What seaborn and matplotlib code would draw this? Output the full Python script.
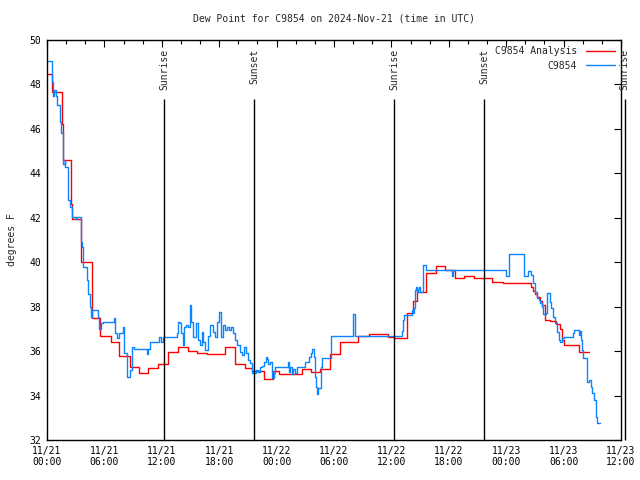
import numpy as np
import pandas as pd
import seaborn as sns
import matplotlib
matplotlib.use('Agg')
import matplotlib.pyplot as plt
from matplotlib.ticker import MultipleLocator

# hours since 2024-11-21 00:00 UTC, value starts at that hour (steps)
analysis_hours = [0.10, 0.55, 1.60, 1.67, 2.48, 2.61, 3.55, 4.73, 5.54, 6.66,
                  7.56, 8.68, 9.65, 10.59, 11.63, 12.62, 13.72, 14.69, 15.65, 16.72,
                  18.61, 19.60, 20.70, 21.40, 22.68, 23.66, 24.20, 26.62, 27.56, 28.54,
                  29.58, 30.63, 32.54, 33.66, 35.68, 36.30, 37.60, 38.29, 38.65, 39.59,
                  40.63, 41.60, 42.65, 43.59, 44.63, 46.48, 47.70, 50.56, 50.80, 51.05,
                  51.25, 51.50, 51.71, 52.06, 52.58, 53.21, 53.62, 53.83, 54.04, 55.64,
                  56.69]
analysis_vals = [48.45, 47.65, 46.2, 44.6, 42.6, 41.95, 40.0, 37.5, 36.7, 36.4,
                 35.8, 35.3, 35.0, 35.25, 35.4, 35.95, 36.2, 36.0, 35.9, 35.85,
                 36.2, 35.4, 35.25, 35.1, 34.75, 35.1, 34.95, 35.2, 35.05, 35.2,
                 35.85, 36.4, 36.7, 36.77, 36.65, 36.6, 37.7, 38.25, 38.67, 39.53,
                 39.83, 39.65, 39.27, 39.38, 39.27, 39.12, 39.05, 38.9, 38.7, 38.55,
                 38.45, 38.25, 38.07, 37.4, 37.35, 37.2, 37.0, 36.5, 36.27, 35.97,
                 35.97]

obs_hours = [0.14, 0.55, 0.63, 0.78, 0.89, 1.01, 1.39, 1.49, 1.67, 1.83,
             1.93, 2.23, 2.40, 2.58, 2.98, 3.08, 3.55, 3.69, 3.76, 4.21,
             4.32, 4.49, 4.60, 4.70, 5.33, 5.44, 5.64, 5.89, 7.00, 7.11,
             7.29, 7.53, 7.94, 8.05, 8.36, 8.68, 8.92, 9.09, 10.45, 10.56,
             10.77, 11.71, 11.92, 12.13, 13.56, 13.70, 13.90, 14.01, 14.22, 14.32,
             14.53, 14.74, 14.95, 15.08, 15.26, 15.58, 15.78, 15.99, 16.20, 16.31,
             16.52, 16.83, 17.04, 17.35, 17.56, 17.77, 17.98, 18.19, 18.40, 18.61,
             18.82, 19.02, 19.23, 19.44, 19.65, 19.86, 20.17, 20.38, 20.59, 20.80,
             21.01, 21.22, 21.43, 21.85, 22.06, 22.27, 22.48, 22.68, 22.89, 23.00,
             23.10, 23.31, 23.52, 23.73, 23.83, 25.19, 25.30, 25.40, 25.58, 25.72,
             25.92, 26.13, 26.97, 27.39, 27.60, 27.70, 27.91, 28.01, 28.12, 28.22,
             28.33, 28.64, 28.75, 29.69, 31.96, 32.20, 37.13, 37.24, 37.32, 38.12,
             38.26, 38.36, 38.47, 38.57, 38.68, 38.78, 38.89, 38.99, 39.33, 39.62,
             42.33, 42.44, 47.98, 48.29, 49.89, 50.31, 50.56, 50.80, 51.01, 51.22,
             51.43, 51.53, 51.74, 51.88, 52.16, 52.27, 52.58, 52.68, 52.89, 53.10,
             53.31, 53.52, 53.62, 53.83, 54.04, 54.98, 55.09, 55.61, 55.72, 55.82,
             55.93, 56.00, 56.48, 56.66, 56.87, 57.00, 57.18, 57.36, 57.42, 57.52,
             57.80]
obs_vals = [49.05, 48.1, 47.5, 47.75, 47.5, 47.07, 46.3, 45.8, 44.4, 44.6,
            44.3, 42.8, 42.5, 42.05, 41.95, 42.05, 40.9, 40.7, 39.8, 39.2,
            38.55, 38.0, 37.55, 37.85, 37.55, 37.0, 37.25, 37.3, 37.5, 36.8,
            36.57, 36.83, 37.1, 35.93, 34.85, 35.15, 36.2, 36.1, 35.85, 36.1,
            36.4, 36.65, 36.43, 36.65, 36.8, 37.3, 37.25, 36.8, 36.27, 37.1,
            37.17, 37.1, 38.07, 37.3, 36.65, 37.25, 36.5, 36.27, 36.87, 36.4,
            36.05, 36.7, 37.17, 36.87, 36.65, 37.3, 37.77, 36.65, 37.17, 36.95,
            37.1, 36.95, 37.1, 36.83, 36.5, 36.27, 35.97, 35.83, 36.2, 35.9,
            35.6, 35.48, 35.0, 35.15, 35.07, 35.27, 35.33, 35.52, 35.72, 35.63,
            35.42, 35.52, 34.8, 35.03, 35.27, 35.52, 35.05, 35.27, 34.97, 35.2,
            35.0, 35.27, 35.52, 35.72, 35.9, 36.08, 35.72, 34.85, 34.37, 34.07,
            34.32, 35.3, 35.68, 36.67, 37.67, 36.67, 36.9, 37.4, 37.62, 37.85,
            37.7, 37.92, 38.75, 38.9, 38.67, 38.8, 38.9, 38.67, 39.88, 39.65,
            39.4, 39.65, 39.38, 40.35, 39.38, 39.62, 39.43, 39.05, 38.67, 38.37,
            38.3, 38.15, 38.0, 37.67, 37.73, 38.6, 38.22, 37.92, 37.55, 37.25,
            36.88, 36.5, 36.42, 36.57, 36.65, 36.8, 36.95, 36.72, 36.9, 36.5,
            36.05, 35.68, 34.62, 34.7, 34.4, 34.1, 33.8, 33.5, 33.05, 32.75,
            32.75]

sun_hours = [12.23, 21.64, 36.27, 45.68, 60.38]
sun_names = ['Sunrise', 'Sunset', 'Sunrise', 'Sunset', 'Sunrise']

tick_hours = [0, 6, 12, 18, 24, 30, 36, 42, 48, 54, 60]
tick_labels = ['11/21\n00:00', '11/21\n06:00', '11/21\n12:00', '11/21\n18:00',
               '11/22\n00:00', '11/22\n06:00', '11/22\n12:00', '11/22\n18:00',
               '11/23\n00:00', '11/23\n06:00', '11/23\n12:00']

df = pd.concat([
    pd.DataFrame({'hour': analysis_hours, 'dew': analysis_vals, 'series': 'C9854 Analysis'}),
    pd.DataFrame({'hour': obs_hours, 'dew': obs_vals, 'series': 'C9854'}),
])

sns.set_style('white')
plt.rcParams['font.family'] = ['DejaVu Sans Mono']
plt.rcParams['font.size'] = 7.0

fig = plt.figure(figsize=(6.4, 4.8), dpi=100)
ax = fig.add_axes([47 / 640, 1 - 440 / 480, 574 / 640, 400 / 480])

sns.lineplot(data=df, x='hour', y='dew', hue='series',
             palette={'C9854 Analysis': '#ff0000', 'C9854': '#0a84ff'},
             estimator=None, sort=False, drawstyle='steps-post',
             linewidth=1.0, ax=ax)

ax.set_xlim(0, 60)
ax.set_ylim(32, 50)

# sunrise / sunset markers
for h, name in zip(sun_hours, sun_names):
    ax.vlines(h, 32, 47.35, color='black', linewidth=1.0, clip_on=False)
    ax.text(h, 49.6, name, rotation=90, ha='center', va='top', fontsize=7.0)

ax.set_xticks(tick_hours)
ax.set_xticklabels(tick_labels)
ax.xaxis.set_minor_locator(MultipleLocator(2))
ax.set_yticks(np.arange(32, 51, 2))
ax.tick_params(which='both', direction='in', top=True, right=True,
               colors='black', width=0.8)
ax.tick_params(which='major', length=5, pad=4)
ax.tick_params(which='minor', length=3)
for s in ax.spines.values():
    s.set_color('black')
    s.set_linewidth(1.0)

ax.set_xlabel('')
ax.set_ylabel('degrees F', labelpad=9)
ax.set_title('Dew Point for C9854 on 2024-Nov-21 (time in UTC)', pad=13, fontsize=7.0)

leg = ax.legend(loc='upper right', frameon=False, markerfirst=False,
                handlelength=3.0, handletextpad=0.9, labelspacing=0.45,
                borderaxespad=0.5, borderpad=0.15, fontsize=7.0)

fig.savefig('out.png', dpi=100)
